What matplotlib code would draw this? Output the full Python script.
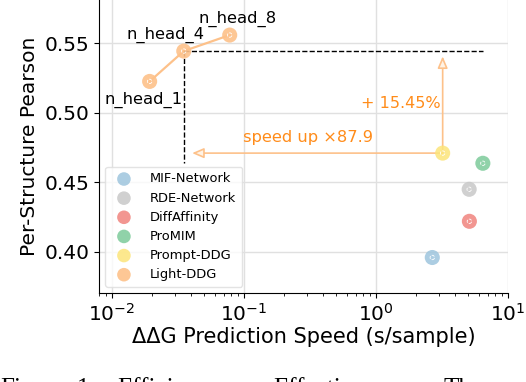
import matplotlib
matplotlib.use("Agg")
import matplotlib.pyplot as plt
import numpy as np

# Data
methods = ["MIF-Network", "RDE-Network", "DiffAffinity", "ProMIM", "Prompt-DDG"]
speeds = [2.67, 5.08, 5.1, 6.45, 3.2]
pearson = [0.396, 0.445, 0.422, 0.4637, 0.471]
colors = ["#9ec5dd", "#c8c8c8", "#f0847e", "#7dcb9a", "#fce57a"]

light_labels = ["n_head_1", "n_head_4", "n_head_8"]
light_speed = [0.0193, 0.035, 0.078]
light_pearson = [0.5225, 0.5443, 0.5558]
light_color = "#fdc18a"

improve_text = "+ 15.45%"
speed_text = "speed up \u00d787.9"
text_color = "#ff8c1a"

caption_words = ["Figure", "1:", "Efficiency", "vs.", "Effectiveness.", "The"]
caption_px = [0, 77, 117, 232, 273, 443]

W, H = 526, 382
fig = plt.figure(figsize=(W / 100, H / 100), dpi=100)
ax = fig.add_axes([99 / W, 1 - 293 / H, (508 - 99) / W, 293 / H])

ax.set_xscale("log")
ax.set_xlim(10**-2.098, 10**1)
ax.set_ylim(0.3705, 0.581)
ax.grid(True, which="major", color="#e0e0e0", linewidth=1.0)
ax.set_axisbelow(True)
for s in ["top", "right"]:
    ax.spines[s].set_visible(False)

ms = 118
inner = 10
for m, x, y, c in zip(methods, speeds, pearson, colors):
    ax.scatter([x], [y], s=ms, color=c, alpha=0.85, edgecolors="none", zorder=3, label=m)
    ax.scatter([x], [y], s=inner, facecolors="none", edgecolors="white", linewidths=0.6,
               linestyles="--", zorder=4)

ax.plot(light_speed, light_pearson, color=light_color, lw=1.6, zorder=2)
ax.scatter(light_speed, light_pearson, s=ms, color=light_color, alpha=0.9, edgecolors="none",
           zorder=3, label="Light-DDG")
ax.scatter(light_speed, light_pearson, s=inner, facecolors="none", edgecolors="white",
           linewidths=0.6, linestyles="--", zorder=4)

# dashed reference lines
x4, y4 = light_speed[1], light_pearson[1]
ax.plot([x4, speeds[3]], [y4, y4], "k--", lw=1.0, zorder=2)
ax.plot([x4, x4], [y4, pearson[3]], "k--", lw=1.0, zorder=2)

# arrows
px, py = speeds[4], pearson[4]
arrow_kw = dict(arrowstyle="-|>,head_length=0.7,head_width=0.3", color=light_color,
                lw=1.2, fc="#fff3e6", shrinkA=0, shrinkB=0)
ax.annotate("", xy=(0.0405, py), xytext=(px, py), arrowprops=arrow_kw, zorder=2)
ax.annotate("", xy=(px, 0.5405), xytext=(px, py), arrowprops=arrow_kw, zorder=2)

ax.text(3.07, 0.5069, improve_text, color=text_color, fontsize=11.5, ha="right", va="center")
ax.text(0.308, 0.4824, speed_text, color=text_color, fontsize=11.7, ha="center", va="center")

ax.text(0.0173, 0.509, light_labels[0], fontsize=11.8, ha="center", va="center")
ax.text(0.02535, 0.5558, light_labels[1], fontsize=11.8, ha="center", va="center")
ax.text(0.0889, 0.5673, light_labels[2], fontsize=11.8, ha="center", va="center")

ax.set_xlabel("\u0394\u0394G Prediction Speed (s/sample)", fontsize=15, labelpad=2)
ax.set_ylabel("Per-Structure Pearson", fontsize=14.5, labelpad=4)
ax.tick_params(labelsize=14.5)
ax.set_yticks([0.40, 0.45, 0.50, 0.55])

leg = ax.legend(loc="lower left", fontsize=9.4, frameon=True, handletextpad=1.0,
                borderpad=0.45, labelspacing=0.47, markerscale=0.9, borderaxespad=0,
                bbox_to_anchor=((105 - 99) / 409, 6 / 293))
leg.get_frame().set_edgecolor("#dddddd")

# caption of the source figure, cut off at the bottom edge as in the reference
for w, xp in zip(caption_words, caption_px):
    fig.text(xp / W, -13.0 / H, w, family="Liberation Serif", fontsize=18,
             va="baseline", ha="left")

fig.savefig("out.png", dpi=100)
